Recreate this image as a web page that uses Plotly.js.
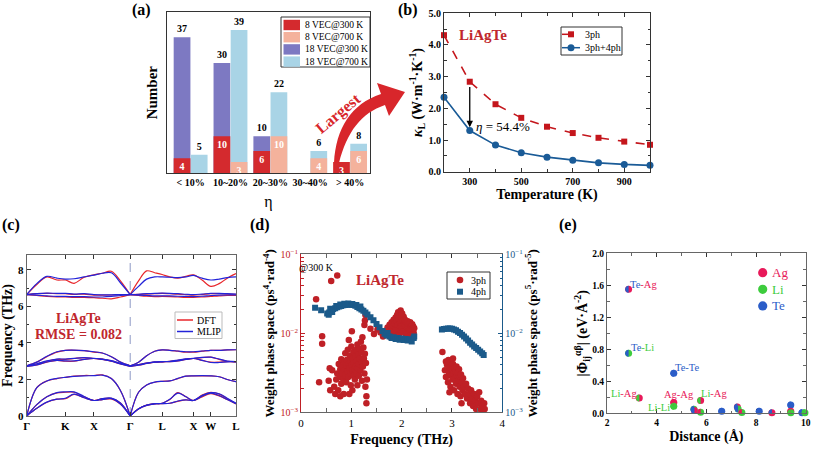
<!DOCTYPE html>
<html><head><meta charset="utf-8">
<script src="https://cdn.plot.ly/plotly-3.0.1.min.js"></script>
<style>html,body{margin:0;padding:0;background:#fff}#chart{width:813px;height:452px}</style>
</head><body><div id="chart"></div>
<script>
// ---------- (a) data ----------
const etaCategories = ['&lt; 10%', '10~20%', '20~30%', '30~40%', '&gt; 40%'];
const vec8at300 = [4, 10, 6, 0, 3];
const vec8at700 = [0, 3, 10, 4, 6];
const vec18at300 = [37, 30, 10, 0, 0];
const vec18at700 = [5, 39, 22, 6, 8];
const seriesNamesA = ['8 VEC@300 K', '8 VEC@700 K', '18 VEC@300 K', '18 VEC@700 K'];

// ---------- (b) data ----------
const temperature = [200, 300, 400, 500, 600, 700, 800, 900, 1000];
const kappa3ph = [4.31, 2.84, 2.13, 1.70, 1.42, 1.22, 1.07, 0.95, 0.85];
const kappa34ph = [2.35, 1.30, 0.84, 0.60, 0.46, 0.36, 0.28, 0.23, 0.20];

// ---------- (c) data ----------
const kPath = [0,10,20,30,38.4,47,57,66.7,75,84,93,102.7,111,119,127,134.4,142,150,158,165.4,174,182.7,191,199,207.7];
const kTicks = [0, 38.4, 66.7, 102.7, 134.4, 165.4, 182.7, 207.7];
const kLabels = ['Γ','K','X','Γ','L','X','W','L'];
const dftTA1 = [0,0.42,0.75,0.92,0.95,1.18,1.0,0.85,0.9,0.93,0.65,0,0.38,0.58,0.66,0.68,0.70,0.80,0.88,0.85,1.05,1.22,1.1,0.9,0.66];
const dftTA2 = [0,0.62,1.05,1.27,1.3,1.3,1.05,0.85,0.95,0.97,0.72,0,0.40,0.60,0.68,0.70,0.90,1.28,1.05,0.85,1.15,1.3,1.2,0.95,0.68];
const dftLA  = [0,1.55,1.92,2.05,2.12,2.18,2.22,2.22,2.25,2.05,1.4,0,1.3,1.7,1.85,1.9,1.92,2.05,2.18,2.2,2.2,2.2,2.15,2.0,1.88];
const dftO1  = [2.72,2.8,2.95,3.05,3.0,3.0,3.1,3.15,3.1,3.0,2.85,2.72,2.78,2.88,2.95,2.97,2.98,3.02,3.1,3.15,3.05,2.95,2.95,2.98,2.97];
const dftO2  = [2.75,2.85,3.0,3.1,3.1,3.15,3.2,3.15,3.12,3.02,2.88,2.75,2.82,2.9,2.95,2.97,3.0,3.05,3.12,3.15,3.2,3.22,3.1,3.0,2.97];
const dftO3  = [2.75,2.95,3.25,3.5,3.6,3.6,3.58,3.5,3.45,3.25,2.95,2.75,2.95,3.3,3.55,3.62,3.6,3.55,3.5,3.5,3.55,3.6,3.6,3.62,3.63];
const dftH1  = [6.65,6.6,6.55,6.52,6.52,6.5,6.5,6.48,6.45,6.42,6.52,6.65,6.6,6.56,6.54,6.55,6.54,6.52,6.5,6.5,6.52,6.55,6.58,6.6,6.6];
const dftH2  = [6.65,6.7,6.72,6.7,6.7,6.66,6.68,6.62,6.62,6.63,6.65,6.65,6.66,6.68,6.7,6.72,6.7,6.68,6.65,6.62,6.65,6.7,6.7,6.68,6.67];
const dftH3  = [6.65,7.2,7.62,7.45,7.45,7.27,7.6,7.73,7.82,7.93,7.4,6.65,7.4,7.95,7.85,7.75,7.62,7.55,7.65,7.73,7.45,7.1,7.25,7.55,7.8];
const mlipTA1 = [0,0.42,0.76,0.92,0.97,1.2,1.0,0.85,0.9,0.95,0.66,0,0.38,0.58,0.66,0.68,0.70,0.82,0.88,0.85,1.08,1.25,1.12,0.9,0.68];
const mlipTA2 = [0,0.62,1.05,1.28,1.32,1.32,1.07,0.85,0.95,0.98,0.72,0,0.40,0.60,0.68,0.70,0.92,1.25,1.05,0.85,1.12,1.28,1.22,0.97,0.7];
const mlipLA  = [0,1.55,1.92,2.06,2.12,2.17,2.2,2.21,2.24,2.05,1.4,0,1.3,1.7,1.86,1.9,1.92,2.06,2.18,2.2,2.21,2.2,2.15,2.0,1.88];
const mlipO1  = [2.72,2.8,2.96,3.05,3.02,3.02,3.1,3.15,3.1,3.0,2.85,2.72,2.78,2.88,2.95,2.97,2.98,3.02,3.1,3.15,3.05,2.93,2.93,2.97,2.97];
const mlipO2  = [2.75,2.86,3.02,3.12,3.12,3.16,3.2,3.16,3.12,3.03,2.88,2.75,2.82,2.9,2.96,2.98,3.0,3.06,3.13,3.16,3.21,3.22,3.12,3.01,2.98];
const mlipO3  = [2.75,2.95,3.27,3.52,3.6,3.61,3.58,3.52,3.45,3.25,2.95,2.75,2.95,3.3,3.55,3.62,3.6,3.56,3.52,3.52,3.56,3.6,3.6,3.62,3.63];
const mlipH1  = [6.65,6.62,6.58,6.55,6.55,6.54,6.54,6.52,6.52,6.55,6.6,6.65,6.62,6.6,6.58,6.58,6.58,6.56,6.55,6.54,6.56,6.6,6.62,6.63,6.63];
const mlipH2  = [6.65,6.7,6.73,6.72,6.72,6.68,6.7,6.65,6.64,6.64,6.65,6.65,6.67,6.7,6.72,6.73,6.72,6.7,6.67,6.65,6.68,6.72,6.72,6.7,6.68];
const mlipH3  = [6.65,7.25,7.65,7.55,7.5,7.52,7.62,7.72,7.82,7.85,7.3,6.65,7.1,7.5,7.62,7.62,7.6,7.58,7.62,7.7,7.55,7.45,7.5,7.58,7.62];
const dftBands = [dftTA1, dftTA2, dftLA, dftO1, dftO2, dftO3, dftH1, dftH2, dftH3];
const mlipBands = [mlipTA1, mlipTA2, mlipLA, mlipO1, mlipO2, mlipO3, mlipH1, mlipH2, mlipH3];

// ---------- (d) data ----------
const freq3ph = [0.30,0.60,0.72,0.42,0.42,0.36,0.55,0.58,0.62,0.57,
 0.66,0.68,0.70,0.72,0.74,0.75,0.77,0.78,0.80,0.80,0.82,0.83,0.84,0.85,0.86,0.87,0.88,0.88,0.90,0.90,
 0.91,0.92,0.93,0.94,0.95,0.95,0.96,0.97,0.98,0.98,0.99,1.00,1.00,1.01,1.02,1.03,1.04,1.04,1.05,1.06,
 1.07,1.08,1.09,1.10,1.10,1.11,1.12,1.13,1.14,1.15,1.15,1.16,1.17,1.18,1.19,1.20,1.20,1.21,1.22,1.23,
 1.24,1.25,1.26,1.26,1.27,1.28,1.28,1.29,1.30,1.30,1.31,0.96,1.02,0.78,1.12,1.27,
 1.38,1.45,1.52,1.58,1.63,1.68,
 1.72,1.74,1.76,1.78,1.80,1.81,1.83,1.84,1.85,1.86,1.88,1.89,1.90,1.91,1.92,1.93,1.94,1.95,1.96,1.97,
 1.98,1.99,2.00,2.01,2.02,2.03,2.04,2.05,2.06,2.07,2.08,2.09,2.10,2.11,2.12,2.13,2.14,2.15,2.16,2.17,
 2.18,2.19,2.20,2.21,2.22,2.23,2.24,2.25,1.87,1.95,2.02,1.78,1.92,2.08,2.16,2.22,
 2.81,2.86,2.88,2.90,2.92,2.93,2.94,2.96,2.97,2.98,2.99,3.00,3.01,3.02,3.03,3.04,3.05,3.06,3.07,3.08,
 3.09,3.10,3.11,3.12,3.13,3.14,3.15,3.16,3.17,3.18,3.19,3.20,3.21,3.22,3.24,3.26,3.28,3.30,3.32,3.34,
 3.36,3.38,3.40,3.42,3.44,3.46,3.48,3.50,3.52,3.54,3.56,3.58,3.60,3.62,3.64,3.65,2.88,3.02,2.95];
const wps3ph = [0.027,0.046,0.054,0.0092,0.0074,0.0024,0.0025,0.0019,0.0034,0.0036,
 0.0021,0.0017,0.0026,0.0031,0.0019,0.0041,0.0028,0.0035,0.0023,0.0047,0.0031,0.0038,0.0026,0.0017,0.0043,0.0034,0.0029,0.0056,0.0039,0.0024,
 0.0046,0.0033,0.0062,0.0028,0.0041,0.0082,0.0036,0.0052,0.0031,0.0045,0.0022,0.0039,0.0068,0.0106,0.0034,0.0048,0.0029,0.0058,0.0042,0.0035,
 0.0026,0.0051,0.0038,0.0062,0.0031,0.0045,0.0072,0.0036,0.0054,0.0029,0.0041,0.0064,0.0048,0.0034,0.0078,0.0043,0.0057,0.0025,0.0089,0.0038,
 0.0066,0.0048,0.0127,0.0031,0.0055,0.0171,0.0021,0.0042,0.0016,0.0013,0.0026,0.0017,0.0019,0.0016,0.0022,0.0145,
 0.0114,0.0098,0.0112,0.0102,0.0091,0.0108,
 0.0118,0.0096,0.0128,0.0105,0.0138,0.0112,0.0124,0.0148,0.0099,0.0133,0.0158,0.0118,0.0142,0.0170,0.0126,0.0185,0.0152,0.0112,0.0168,0.0138,
 0.0195,0.0123,0.0158,0.0178,0.0142,0.0118,0.0162,0.0135,0.0150,0.0125,0.0145,0.0112,0.0138,0.0128,0.0142,0.0118,0.0132,0.0108,0.0126,0.0138,
 0.0115,0.0124,0.0105,0.0130,0.0112,0.0122,0.0101,0.0116,0.0108,0.0098,0.0104,0.0090,0.0094,0.0096,0.0093,0.0097,
 0.0058,0.0034,0.0028,0.0040,0.0024,0.0046,0.0032,0.0037,0.0021,0.0043,0.0029,0.0035,0.0026,0.0041,0.0031,0.0019,0.0036,0.0027,0.0033,0.0023,
 0.0038,0.0029,0.0017,0.0032,0.0025,0.0035,0.0021,0.0028,0.0016,0.0030,0.0013,0.0024,0.0019,0.0027,0.0021,0.0017,0.0023,0.0015,0.0020,0.0017,
 0.0013,0.0019,0.0015,0.0012,0.0017,0.0014,0.0011,0.0016,0.0013,0.0018,0.0011,0.0014,0.0012,0.0010,0.0013,0.0011,0.0044,0.0048,0.0018];
const freq4ph = [0.28,0.40,0.52,0.55,0.56,0.58,0.60,0.62,0.64,0.68,0.70,0.72,0.76,0.78,0.80,0.84,0.86,0.88,0.92,0.94,
 0.96,1.00,1.02,1.04,1.08,1.10,1.12,1.16,1.18,1.20,1.24,1.28,1.32,1.38,1.44,1.50,1.56,1.62,1.66,1.70,
 1.72,1.76,1.80,1.84,1.88,1.92,1.96,2.00,2.04,2.08,2.12,2.16,2.20,2.24,2.25,
 2.80,2.84,2.88,2.92,2.96,3.00,3.04,3.08,3.12,3.16,3.20,3.24,3.28,3.32,3.36,3.40,3.44,3.48,3.52,3.56,3.60,3.63];
const wps4ph = [0.0210,0.0196,0.0178,0.0172,0.0183,0.0205,0.0192,0.0186,0.0203,0.0208,0.0222,0.0213,0.0218,0.0232,0.0222,0.0226,0.0236,0.0228,0.0230,0.0238,
 0.0231,0.0230,0.0235,0.0228,0.0223,0.0228,0.0216,0.0208,0.0218,0.0200,0.0193,0.0183,0.0173,0.0160,0.0146,0.0131,0.0119,0.0107,0.0099,0.0094,
 0.0101,0.0091,0.0087,0.0089,0.0085,0.0087,0.0083,0.0086,0.0082,0.0085,0.0081,0.0084,0.0079,0.0087,0.0091,
 0.0112,0.0113,0.0114,0.0115,0.0115,0.0114,0.0112,0.0109,0.0105,0.0101,0.0096,0.0091,0.0086,0.0081,0.0076,0.0072,0.0068,0.0065,0.0062,0.0059,0.0056,0.0053];

// ---------- (e) data ----------
const pairDist = [2.87,2.87,3.30,4.69,4.69,4.69,5.77,5.50,5.52,5.77,6.62,7.25,7.28,7.43,8.13,8.64,9.40,9.40,9.40,9.85,9.97];
const pairPhi  = [1.55,0.75,0.19,0.50,0.135,0.088,0.16,0.05,0.035,0.012,0.025,0.08,0.055,0.01,0.025,0.008,0.105,0.025,0.006,0.008,0.008];
const pairLeft = ['Te','Te','Li','Te','Ag','Li','Li','Te','Te','Ag','Te','Te','Te','Ag','Te','Te','Te','Ag','Li','Te','Li'];
const pairRight= ['Ag','Li','Ag','Te','Ag','Li','Ag','Li','Ag','Li','Te','Ag','Li','Li','Te','Ag','Te','Ag','Li','Te','Li'];
const species = ['Ag','Li','Te'];

// ---------- styling ----------
const FONT = 'Liberation Serif, Times New Roman, serif';
const W = 813, H = 452;
const P = x => x / W;
const Q = y => 1 - y / H;
const fnt = (size, color, weight) => {
  const f = {family: FONT, size: size, color: color || '#000'};
  if (weight) f.weight = weight;
  return f;
};
const bold = (size, color) => fnt(size, color, 'bold');
const C = {r8_300:'#d42a2e', r8_700:'#f4b29c', p18_300:'#7d79c2', b18_700:'#a9d4e6',
  bRed:'#c4161c', bBlue:'#1a5b97', txtRed:'#c0272d', dft:'#e8262b', mlip:'#2323d8',
  dRed:'#bf2026', dBlue:'#1b5a8a', Ag:'#e8195a', Li:'#3dcc3d', Te:'#2b5dc8'};
const spColor = {Ag: C.Ag, Li: C.Li, Te: C.Te};

const traces = [];
function barTrace(vals, color, offset, outside, name) {
  const keep = vals.map((v, i) => i).filter(i => vals[i] > 0);
  return {type:'bar', x: keep, y: keep.map(i => vals[i]), name: name, xaxis:'x', yaxis:'y', width:0.42, offset: offset,
    marker:{color: color, line:{width:0}}, text: keep.map(i => String(vals[i])),
    textposition: outside ? 'outside' : 'inside', insidetextanchor:'end', constraintext:'none', textangle:0,
    textfont: outside ? bold(10) : bold(10, '#fff'), cliponaxis:false, hoverinfo:'skip'};
}
traces.push(barTrace(vec18at300, C.p18_300, -0.425, true, seriesNamesA[2]));
traces.push(barTrace(vec18at700, C.b18_700, 0.005, true, seriesNamesA[3]));
traces.push(barTrace(vec8at300, C.r8_300, -0.425, false, seriesNamesA[0]));
traces.push(barTrace(vec8at700, C.r8_700, 0.005, false, seriesNamesA[1]));

// (b)
traces.push({type:'scatter', mode:'lines+markers', x: temperature, y: kappa3ph, xaxis:'x2', yaxis:'y2', name:'3ph',
  line:{color:C.bRed, width:1.6, dash:'dash'}, marker:{symbol:'square', size:6, color:C.bRed}, cliponaxis:false});
traces.push({type:'scatter', mode:'lines+markers', x: temperature, y: kappa34ph, xaxis:'x2', yaxis:'y2', name:'3ph+4ph',
  line:{color:C.bBlue, width:1.6}, marker:{symbol:'circle', size:7, color:C.bBlue}, cliponaxis:false});

// (c)
function bandTraces(bands, color, name) {
  bands.forEach(b => {
    [[0, 12], [11, 25]].forEach(s => {
      traces.push({type:'scatter', mode:'lines', x: kPath.slice(s[0], s[1]), y: b.slice(s[0], s[1]), xaxis:'x3', yaxis:'y3',
        name: name, line:{color: color, width:1.2, shape:'spline', smoothing:1}, hoverinfo:'skip'});
    });
  });
}
bandTraces(dftBands, C.dft, 'DFT');
bandTraces(mlipBands, C.mlip, 'MLIP');

// (d)
traces.push({type:'scatter', mode:'markers', x: freq4ph, y: wps4ph, xaxis:'x4', yaxis:'y5', name:'4ph',
  marker:{symbol:'square', size:6, color:C.dBlue}, hoverinfo:'skip'});
traces.push({type:'scatter', mode:'markers', x: freq3ph, y: wps3ph, xaxis:'x4', yaxis:'y4', name:'3ph',
  marker:{symbol:'circle', size:6.5, color:C.dRed}, hoverinfo:'skip'});

// (e)
traces.push({type:'scatter', mode:'markers', x: pairDist, y: pairPhi, xaxis:'x5', yaxis:'y6', name:'pairs',
  marker:{symbol:'circle', size:7, color: pairRight.map(s => spColor[s])}, cliponaxis:false, hoverinfo:'skip'});

// ---------- shapes ----------
const shapes = [];
shapes.push({type:'line', xref:'x3', yref:'y3 domain', x0:kTicks[3], x1:kTicks[3], y0:0, y1:1, layer:'below',
  line:{color:'#8d98c6', width:1, dash:'dash'}});
pairDist.forEach((d, i) => {
  shapes.push({type:'path', xref:'x5', yref:'y6', xsizemode:'pixel', ysizemode:'pixel', xanchor:d, yanchor:pairPhi[i],
    path:'M0,-3.5 C-1.93,-3.5 -3.5,-1.93 -3.5,0 C-3.5,1.93 -1.93,3.5 0,3.5 Z',
    fillcolor: spColor[pairLeft[i]], line:{width:0}, layer:'above'});
});
const pts = s => s.replace(/(-?[\d.]+),(-?[\d.]+)/g, (m, a, b) => P(+a).toFixed(5) + ',' + Q(+b).toFixed(5));
shapes.push({type:'path', xref:'paper', yref:'paper', fillcolor:'#d8262b', line:{width:0},
  path: pts('M334,163 C336,128 351,104 381,94 L377,83 L405,92 L389,116 L385,105 C361,113 347,132 339,163 Z')});

const annotations = [];
function note(x, y, text, font, extra) {
  annotations.push(Object.assign({xref:'paper', yref:'paper', x:P(x), y:Q(y), text:text, font:font, showarrow:false,
    xanchor:'center', yanchor:'middle'}, extra || {}));
}
function rectPx(x0, y0, x1, y1, fill, line) {
  shapes.push({type:'rect', xref:'paper', yref:'paper', x0:P(x0), x1:P(x1), y0:Q(y1), y1:Q(y0),
    fillcolor: fill || 'rgba(0,0,0,0)', line: line || {width:0}});
}
function circlePx(cx, cy, r, fill) {
  shapes.push({type:'circle', xref:'paper', yref:'paper', x0:P(cx - r), x1:P(cx + r), y0:Q(cy + r), y1:Q(cy - r),
    fillcolor: fill, line:{width:0}});
}
function linePx(x0, x1, y, color, dash) {
  shapes.push({type:'line', xref:'paper', yref:'paper', x0:P(x0), x1:P(x1), y0:Q(y), y1:Q(y),
    line:{color: color, width:1.5, dash: dash || 'solid'}});
}

// legend (a)
rectPx(281, 17, 370, 67, '#fff', {color:'#333', width:1});
const legA = [[C.r8_300, seriesNamesA[0]], [C.r8_700, seriesNamesA[1]], [C.p18_300, seriesNamesA[2]], [C.b18_700, seriesNamesA[3]]];
legA.forEach((e, i) => {
  const yc = 25 + i * 12.2;
  rectPx(283.5, yc - 5.2, 300, yc + 5.2, e[0]);
  note(302.5, yc, e[1], fnt(9.5), {xanchor:'left'});
});
// legend (b)
rectPx(561, 27, 622, 55, '#fff', {color:'#333', width:1});
linePx(562, 580, 34.3, C.bRed, 'dash');
rectPx(568, 31.3, 574, 37.3, C.bRed);
note(583, 34.3, '3ph', fnt(10), {xanchor:'left'});
linePx(562, 580, 47.7, C.bBlue);
circlePx(571, 47.7, 3.5, C.bBlue);
note(583, 47.7, '3ph+4ph', fnt(10), {xanchor:'left'});
// legend (c)
rectPx(175, 312, 222, 338.5, '#fff', {color:'#bbb', width:1});
linePx(177, 193, 320, C.dft);
note(195, 320, 'DFT', fnt(10), {xanchor:'left'});
linePx(177, 193, 331.5, C.mlip);
note(195, 331.5, 'MLIP', fnt(10), {xanchor:'left'});
// legend (d)
rectPx(447, 272, 490, 299, '#fff', {color:'#333', width:1});
circlePx(460, 280, 3.3, C.dRed);
note(488, 280, '3ph', fnt(10), {xanchor:'right'});
rectPx(457, 288.7, 463, 294.7, C.dBlue);
note(488, 291.7, '4ph', fnt(10), {xanchor:'right'});
// legend (e)
species.forEach((s, i) => {
  const yc = 272.7 + i * 16.6;
  circlePx(762.7, yc, 4.6, spColor[s]);
  note(770, yc, s, fnt(13, spColor[s]), {xanchor:'left'});
});

// panel labels and notes
note(141.7, 10, '(a)', bold(16));
note(408, 10, '(b)', bold(16));
note(11, 225, '(c)', bold(16));
note(260, 225, '(d)', bold(16));
note(568, 225, '(e)', bold(16));
note(338, 114, 'Largest', bold(16, '#d8262b'), {textangle:-40});
note(483, 35, 'LiAgTe', bold(15, C.txtRed));
note(503, 126, '<i>η</i> = 54.4%', fnt(13));
annotations.push({xref:'x2', yref:'y2', axref:'x2', ayref:'y2', x: temperature[1], y: kappa34ph[1] + 0.1,
  ax: temperature[1], ay: kappa3ph[1] - 0.12, text:'', showarrow:true, arrowhead:2, arrowsize:1, arrowwidth:1.3, arrowcolor:'#000'});
note(78, 318, 'LiAgTe', bold(14, C.txtRed));
note(78, 334, 'RMSE = 0.082', bold(14, C.txtRed));
note(316, 267, '@300 K', fnt(10));
note(380, 280, 'LiAgTe', bold(15, C.txtRed));
const sp = (s, t) => '<span style="color:' + spColor[s] + '">' + t + '</span>';
const pairNotes = [
  [643, 284, sp('Te','Te') + sp('Ag','-Ag')],
  [642, 347, sp('Te','Te') + sp('Li','-Li')],
  [687, 367, sp('Te','Te-Te')],
  [624, 393, sp('Li','Li') + sp('Ag','-Ag')],
  [679, 394, sp('Ag','Ag-Ag')],
  [659, 407, sp('Li','Li-Li')],
  [714, 393, sp('Li','Li') + sp('Ag','-Ag')]
];
pairNotes.forEach(n => note(n[0], n[1], n[2], fnt(10.5)));

// ---------- axes ----------
const base = {showline:true, linecolor:'#333', linewidth:1, mirror:'allticks', showgrid:false, zeroline:false,
  ticks:'inside', ticklen:4, tickcolor:'#333', tickwidth:1, fixedrange:true};
const ax = o => Object.assign({}, base, o);
const logMinor = [0.002,0.003,0.004,0.005,0.006,0.007,0.008,0.009,0.02,0.03,0.04,0.05,0.06,0.07,0.08,0.09];
const logTicks = [0.001, 0.01, 0.1];
const logText = ['10<sup>−3</sup>', '10<sup>−2</sup>', '10<sup>−1</sup>'];
const etaIdx = etaCategories.map((c, i) => i);

const layout = {
  width: W, height: H, margin:{l:0, r:0, t:0, b:0}, paper_bgcolor:'#fff', plot_bgcolor:'#fff',
  showlegend:false, barmode:'overlay', font:{family:FONT, color:'#000'}, hovermode:false,
  xaxis: ax({domain:[P(166.7), P(370)], anchor:'y', range:[-0.6, 4.5], tickvals: etaIdx, ticktext: etaCategories,
    ticks:'', mirror:true, tickfont: bold(10), title:{text:'η', font: fnt(16), standoff:8}}),
  yaxis: ax({domain:[Q(173), Q(12.3)], anchor:'x', range:[0, 43.8], showticklabels:false, ticks:'', mirror:true,
    title:{text:'Number', font: bold(15), standoff:4}}),
  xaxis2: ax({domain:[P(444), P(650)], anchor:'y2', range:[200, 1000], tick0:300, dtick:200,
    minor:{dtick:100, ticks:'inside', ticklen:2.5, tickcolor:'#333'}, tickfont: bold(10),
    title:{text:'Temperature (K)', font: bold(14), standoff:2}}),
  yaxis2: ax({domain:[Q(171.7), Q(13.3)], anchor:'x2', range:[0, 5], dtick:1, tickformat:'.1f',
    minor:{dtick:0.5, ticks:'inside', ticklen:2.5, tickcolor:'#333'}, tickfont: bold(10),
    title:{text:'<i>κ</i><sub>L</sub> (W·m<sup>-1</sup>·K<sup>-1</sup>)', font: bold(14), standoff:2}}),
  xaxis3: ax({domain:[P(26.7), P(236)], anchor:'y3', range:[0, 207.7], tickvals:kTicks, ticktext:kLabels,
    tickfont: bold(11), linecolor:'#666'}),
  yaxis3: ax({domain:[Q(416), Q(255)], anchor:'x3', range:[0, 8.82], dtick:2, linecolor:'#666',
    minor:{dtick:1, ticks:'inside', ticklen:2.5, tickcolor:'#333'}, tickfont: bold(11),
    title:{text:'Frequency (THz)', font: bold(14), standoff:2}}),
  xaxis4: ax({domain:[P(301), P(502.3)], anchor:'y4', range:[0, 4], dtick:1, linecolor:'#666',
    minor:{dtick:0.5, ticks:'inside', ticklen:2.5, tickcolor:'#666'}, tickfont: fnt(11),
    title:{text:'Frequency (THz)', font: bold(14), standoff:6}}),
  yaxis4: ax({domain:[Q(412.3), Q(254.3)], anchor:'x4', type:'log', range:[-3, -1], mirror:false,
    tickvals: logTicks, ticktext: logText, linecolor:C.dRed, tickcolor:C.dRed, tickfont: fnt(10, C.dRed),
    minor:{tickvals: logMinor, ticks:'inside', ticklen:2.5, tickcolor:C.dRed},
    title:{text:'Weight phase space (ps<sup>4</sup>·rad<sup>-4</sup>)', font: bold(13), standoff:2}}),
  yaxis5: ax({overlaying:'y4', anchor:'x4', side:'right', type:'log', range:[-3, -1], mirror:false,
    tickvals: logTicks, ticktext: logText, linecolor:C.dBlue, tickcolor:C.dBlue, tickfont: fnt(10, C.dBlue),
    minor:{tickvals: logMinor, ticks:'inside', ticklen:2.5, tickcolor:C.dBlue},
    title:{text:'Weight phase space (ps<sup>5</sup>·rad<sup>-5</sup>)', font: bold(13), standoff:2}}),
  xaxis5: ax({domain:[P(607), P(805.7)], anchor:'y6', range:[2, 10], dtick:2, linecolor:'#666',
    minor:{dtick:1, ticks:'inside', ticklen:2.5, tickcolor:'#666'}, tickfont: bold(9.5),
    title:{text:'Distance (Å)', font: bold(14), standoff:4}}),
  yaxis6: ax({domain:[Q(413.3), Q(253.3)], anchor:'x5', range:[0, 2], dtick:0.4, tickformat:'.1f', linecolor:'#666',
    minor:{dtick:0.2, ticks:'inside', ticklen:2.5, tickcolor:'#666'}, tickfont: bold(9.5),
    title:{text:'|Φ<sub>ij</sub><sup>αβ</sup>| (eV·Å<sup>-2</sup>)', font: bold(14), standoff:0}}),
  shapes: shapes, annotations: annotations
};

Plotly.newPlot('chart', traces, layout, {displayModeBar:false, responsive:false});
</script></body></html>
